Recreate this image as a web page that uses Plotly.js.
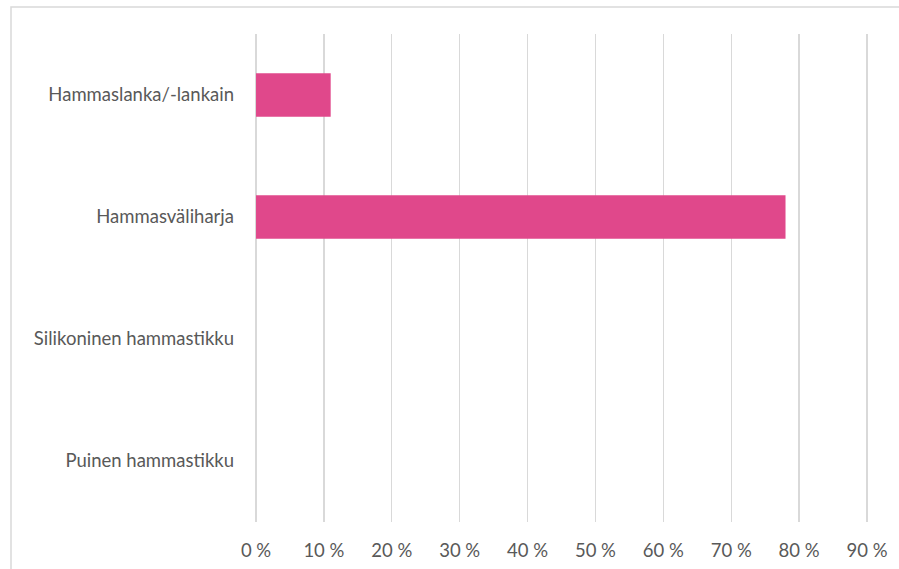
<!DOCTYPE html>
<html>
<head>
<meta charset="utf-8">
<script src="https://cdn.plot.ly/plotly-3.0.1.min.js"></script>
<style>
  html, body { margin: 0; padding: 0; background: #fff; }
  #chart { width: 899px; height: 569px; }
</style>
</head>
<body>
<div id="chart"></div>
<script>
const categories = ["Hammaslanka/-lankain", "Hammasväliharja", "Silikoninen hammastikku", "Puinen hammastikku"];
const values = [11, 78, 0, 0];
const tickValues = [0, 10, 20, 30, 40, 50, 60, 70, 80, 90];

const W = 899, H = 569;
const mL = 255, mR = 31, mT = 34, mB = 47;
const pw = W - mL - mR, ph = H - mT - mB;
function px2paperX(px) { return (px - mL) / pw; }
function px2paperY(py) { return 1 - (py - mT) / ph; }

const trace = {
  type: "bar",
  orientation: "h",
  y: categories,
  x: values,
  marker: { color: "#E0488B", line: { width: 0 } },
  hoverinfo: "skip"
};

const layout = {
  width: W, height: H,
  margin: { l: mL, r: mR, t: mT, b: mB, pad: 0 },
  paper_bgcolor: "#fff",
  plot_bgcolor: "#fff",
  showlegend: false,
  bargap: 0.645,
  font: { family: "Lato, 'Open Sans', sans-serif", size: 18.5, color: "#595959" },
  xaxis: {
    range: [-0.15, 90.15],
    tickvals: tickValues,
    ticktext: tickValues.map(v => v + " %"),
    showgrid: true,
    gridcolor: "#D9D9D9",
    gridwidth: 1.3,
    zeroline: false,
    showline: false,
    ticks: "",
    ticklabelstandoff: 15,
    tickfont: { size: 18.5, color: "#595959" },
    fixedrange: true
  },
  yaxis: {
    autorange: "reversed",
    showgrid: false,
    zeroline: false,
    showline: false,
    ticks: "",
    ticklabelstandoff: 20,
    tickfont: { size: 18.5, color: "#595959" },
    fixedrange: true
  },
  shapes: [{
    type: "rect",
    xref: "paper", yref: "paper",
    x0: px2paperX(11), x1: px2paperX(W + 20),
    y0: px2paperY(H + 20), y1: px2paperY(7),
    line: { color: "#D9D9D9", width: 1.5 },
    fillcolor: "rgba(0,0,0,0)",
    layer: "below"
  }]
};

Plotly.newPlot("chart", [trace], layout, { displayModeBar: false, staticPlot: true });
</script>
</body>
</html>
